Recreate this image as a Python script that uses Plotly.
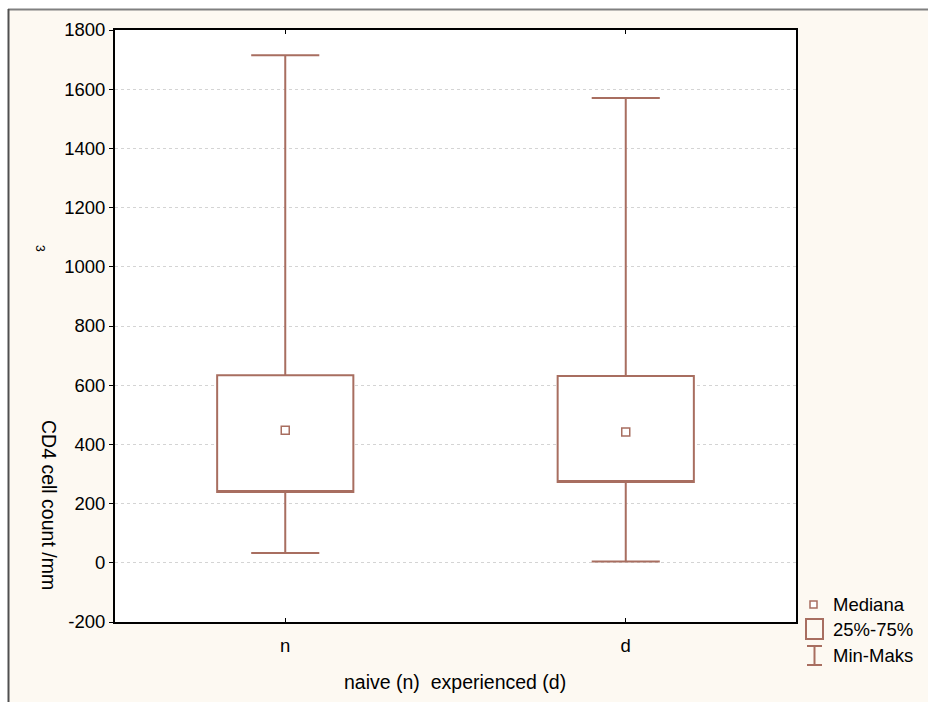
import plotly.graph_objects as go

# ---- data ----
categories = ["n", "d"]
cat_pos = [0, 1]
minimum = [33, 4]
q1 = [239, 273]
median = [448, 442]
q3 = [634, 631]
maximum = [1715, 1570]

y_ticks = [-200, 0, 200, 400, 600, 800, 1000, 1200, 1400, 1600, 1800]
y_tick_text = ["-200", "0", "200", "400", "600", "800", "1000", "1200", "1400", "1600", "1800"]

BROWN = "#A86E60"
BEIGE = "#FDF9F2"
FONT = "Liberation Sans, Arial, sans-serif"
FS = 18.5
FS_TITLE = 19.5

W, H = 928, 702
L, R, T, B = 115, 132, 30, 80
PW, PH = W - L - R, H - T - B


def px(x):
    return (x - L) / PW


def py(y):
    return (H - B - y) / PH


fig = go.Figure()

fig.add_trace(go.Box(
    x=cat_pos, q1=q1, median=q1, q3=q3,
    lowerfence=minimum, upperfence=maximum,
    width=0.4, whiskerwidth=0.5,
    line=dict(color=BROWN, width=2), fillcolor="white",
    boxpoints=False, showlegend=False, hoverinfo="skip",
))

fig.add_trace(go.Scatter(
    x=cat_pos, y=median, mode="markers",
    marker=dict(symbol="square", size=8, color="white",
                line=dict(color=BROWN, width=1.5)),
    showlegend=False, hoverinfo="skip",
))

shapes = []
# white strips outside the frame
shapes.append(dict(type="rect", xref="paper", yref="paper",
                   x0=px(-5), x1=px(W + 5), y0=py(9), y1=py(-5),
                   fillcolor="white", line=dict(width=0), layer="above"))
shapes.append(dict(type="rect", xref="paper", yref="paper",
                   x0=px(-5), x1=px(8), y0=py(H + 5), y1=py(-5),
                   fillcolor="white", line=dict(width=0), layer="above"))
# frame lines
shapes.append(dict(type="line", xref="paper", yref="paper",
                   x0=px(8), x1=px(W + 5), y0=py(9.5), y1=py(9.5),
                   line=dict(color="#808080", width=2), layer="above"))
shapes.append(dict(type="line", xref="paper", yref="paper",
                   x0=px(8.5), x1=px(8.5), y0=py(9), y1=py(H + 5),
                   line=dict(color="#505050", width=2), layer="above"))
# legend symbols
shapes.append(dict(type="rect", xref="paper", yref="paper",
                   x0=px(810), x1=px(817), y0=py(608), y1=py(601),
                   fillcolor="white", line=dict(color=BROWN, width=1.5), layer="above"))
shapes.append(dict(type="rect", xref="paper", yref="paper",
                   x0=px(806), x1=px(823), y0=py(639), y1=py(619),
                   fillcolor="rgba(0,0,0,0)", line=dict(color=BROWN, width=2), layer="above"))
shapes.append(dict(type="line", xref="paper", yref="paper",
                   x0=px(814.5), x1=px(814.5), y0=py(665), y1=py(646),
                   line=dict(color=BROWN, width=2), layer="above"))
shapes.append(dict(type="line", xref="paper", yref="paper",
                   x0=px(807), x1=px(822), y0=py(646), y1=py(646),
                   line=dict(color=BROWN, width=2), layer="above"))
shapes.append(dict(type="line", xref="paper", yref="paper",
                   x0=px(807), x1=px(822), y0=py(665), y1=py(665),
                   line=dict(color=BROWN, width=2), layer="above"))

annotations = [
    dict(text="naive (n)\u00a0\u00a0experienced (d)", xref="paper", yref="paper",
         x=px(455), y=py(682), xanchor="center", yanchor="middle",
         showarrow=False, font=dict(size=FS_TITLE, color="black", family=FONT)),
    dict(text="CD4 cell count /mm", xref="paper", yref="paper",
         x=px(49), y=py(505), xanchor="center", yanchor="middle", textangle=90,
         showarrow=False, font=dict(size=FS_TITLE, color="black", family=FONT)),
    dict(text="3", xref="paper", yref="paper",
         x=px(40), y=py(248), xanchor="center", yanchor="middle", textangle=90,
         showarrow=False, font=dict(size=12, color="black", family=FONT)),
]
for label, yy in [("Mediana", 604), ("25%-75%", 629), ("Min-Maks", 655)]:
    annotations.append(dict(text=label, xref="paper", yref="paper",
                            x=px(831), y=py(yy), xanchor="left", yanchor="middle",
                            showarrow=False,
                            font=dict(size=FS, color="black", family=FONT)))

fig.update_layout(
    width=W, height=H, autosize=False,
    margin=dict(l=L, r=R, t=T, b=B, pad=0),
    paper_bgcolor=BEIGE, plot_bgcolor="white",
    font=dict(family=FONT, size=FS, color="black"),
    shapes=shapes, annotations=annotations,
    showlegend=False,
    xaxis=dict(range=[-0.5, 1.5], tickvals=cat_pos, ticktext=categories,
               showgrid=False, zeroline=False,
               showline=True, linecolor="black", linewidth=2, mirror="ticks",
               ticks="inside", ticklen=4, tickcolor="black",
               ticklabelstandoff=6,
               tickfont=dict(size=FS, family=FONT, color="black")),
    yaxis=dict(range=[-200, 1800], tickvals=y_ticks, ticktext=y_tick_text,
               showgrid=True, gridcolor="#D4D4D4", griddash="dot", gridwidth=1,
               zeroline=False,
               showline=True, linecolor="black", linewidth=2, mirror=True,
               ticks="outside", ticklen=4, tickcolor="black",
               tickfont=dict(size=FS, family=FONT, color="black")),
)

fig.write_html("out.html")
